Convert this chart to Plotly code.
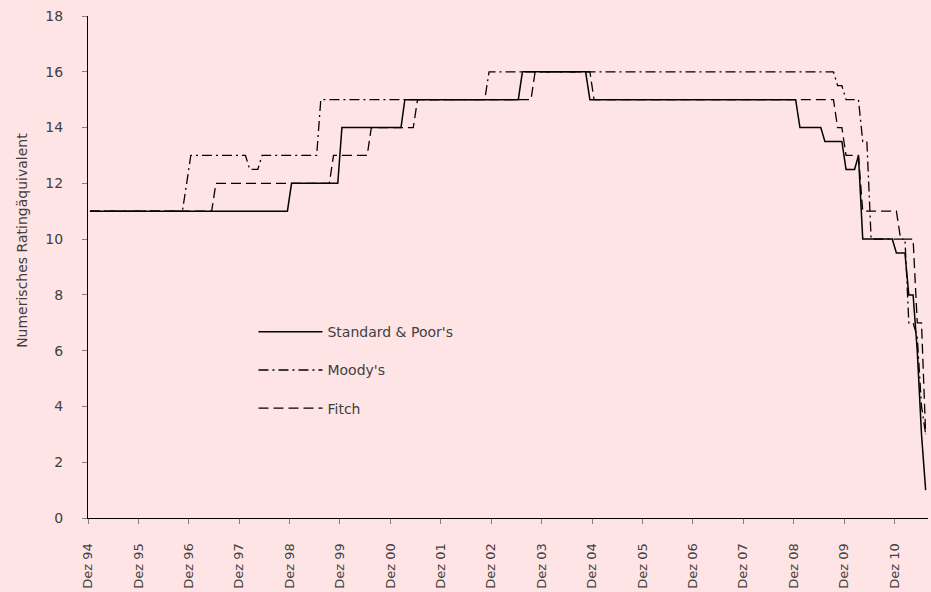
import plotly.graph_objects as go

# --- data: monthly observations at rating-change points (mid-month) ---
sp_dates = ["1994-12-15", "1998-11-15", "1998-12-15", "1999-11-15", "1999-12-15",
            "2001-02-15", "2001-03-15", "2003-06-15", "2003-07-15", "2004-10-15",
            "2004-11-15", "2008-12-15", "2009-01-15", "2009-06-15", "2009-07-15",
            "2009-11-15", "2009-12-15", "2010-02-15", "2010-03-15", "2010-04-15",
            "2010-11-15", "2010-12-15", "2011-02-15", "2011-03-15", "2011-04-15",
            "2011-05-15", "2011-06-15", "2011-07-15"]
sp_values = [11, 11, 12, 12, 14,
             14, 15, 15, 16, 16,
             15, 15, 14, 14, 13.5,
             13.5, 12.5, 12.5, 13, 10,
             10, 9.5, 9.5, 8, 8,
             6, 3, 1]

moody_dates = ["1994-12-15", "1996-10-15", "1996-11-15", "1996-12-15", "1998-01-15",
               "1998-02-15", "1998-04-15", "1998-05-15", "1999-06-15", "1999-07-15",
               "2002-10-15", "2002-11-15", "2009-09-15", "2009-10-15", "2009-11-15",
               "2009-12-15", "2010-03-15", "2010-04-15", "2010-05-15", "2010-06-15",
               "2011-02-15", "2011-03-15", "2011-04-15", "2011-05-15", "2011-06-15",
               "2011-07-15"]
moody_values = [11, 11, 12, 13, 13,
                12.5, 12.5, 13, 13, 15,
                15, 16, 16, 15.5, 15.5,
                15, 15, 13.5, 13.5, 10,
                10, 7, 7, 6.5, 4,
                3]

fitch_dates = ["1994-12-15", "1997-05-15", "1997-06-15", "1999-09-15", "1999-10-15",
               "2000-06-15", "2000-07-15", "2001-05-15", "2001-06-15", "2003-09-15",
               "2003-10-15", "2004-11-15", "2004-12-15", "2009-09-15", "2009-10-15",
               "2009-11-15", "2009-12-15", "2010-03-15", "2010-04-15", "2010-12-15",
               "2011-01-15", "2011-04-15", "2011-05-15", "2011-06-15", "2011-07-15"]
fitch_values = [11, 11, 12, 12, 13,
                13, 14, 14, 15, 15,
                16, 16, 15, 15, 14,
                14, 13, 13, 11, 11,
                10, 10, 7, 7, 3]

tick_dates = ["1994-12-01", "1995-12-01", "1996-12-01", "1997-12-01", "1998-12-01",
              "1999-12-01", "2000-12-01", "2001-12-01", "2002-12-01", "2003-12-01",
              "2004-12-01", "2005-12-01", "2006-12-01", "2007-12-01", "2008-12-01",
              "2009-12-01", "2010-12-01"]
tick_labels = ["Dez 94", "Dez 95", "Dez 96", "Dez 97", "Dez 98", "Dez 99", "Dez 00",
               "Dez 01", "Dez 02", "Dez 03", "Dez 04", "Dez 05", "Dez 06", "Dez 07",
               "Dez 08", "Dez 09", "Dez 10"]

FONT = "DejaVu Sans"
TXT = "#404040"
BG = "#FFE4E6"

fig = go.Figure()
fig.add_trace(go.Scatter(x=sp_dates, y=sp_values, mode="lines", name="Standard & Poor's",
                         legendgroup="a",
                         line=dict(color="black", width=1.5)))
fig.add_trace(go.Scatter(x=moody_dates, y=moody_values, mode="lines", name="Moody's",
                         legendgroup="b",
                         line=dict(color="black", width=1.3, dash="10px,4px,2px,4px")))
fig.add_trace(go.Scatter(x=fitch_dates, y=fitch_values, mode="lines", name="Fitch",
                         legendgroup="c",
                         line=dict(color="black", width=1.3, dash="10px,5px")))

fig.update_layout(
    width=931, height=592,
    margin=dict(l=88, r=3, t=16, b=74, autoexpand=False),
    paper_bgcolor=BG, plot_bgcolor=BG,
    font=dict(family=FONT, size=14, color=TXT),
    showlegend=True,
    legend=dict(x=0.197, y=0.402, xanchor="left", yanchor="top",
                bgcolor="rgba(0,0,0,0)", font=dict(size=14, color=TXT),
                tracegroupgap=17, itemwidth=64),
    xaxis=dict(type="date", range=["1994-12-01", "2011-08-01"],
               tickmode="array", tickvals=tick_dates, ticktext=tick_labels,
               tickangle=-90, showgrid=False, zeroline=False,
               showline=True, linecolor="black", linewidth=1,
               ticks="outside", ticklen=5, tickcolor="#808080",
               ticklabelstandoff=14, tickfont=dict(size=13)),
    yaxis=dict(range=[0, 18], dtick=2, showgrid=False, zeroline=False,
               showline=True, linecolor="black", linewidth=1,
               ticks="outside", ticklen=5, tickcolor="#808080",
               ticklabelstandoff=16),
    annotations=[dict(text="Numerisches Ratingäquivalent", textangle=-90,
                      xref="paper", yref="paper", x=-0.078, y=0.553,
                      xanchor="center", yanchor="middle", showarrow=False,
                      font=dict(size=14, color=TXT))],
)

fig.write_html("out.html", config={"displayModeBar": False},
               post_script="document.body.style.margin='0';document.body.style.background='%s';" % BG)
